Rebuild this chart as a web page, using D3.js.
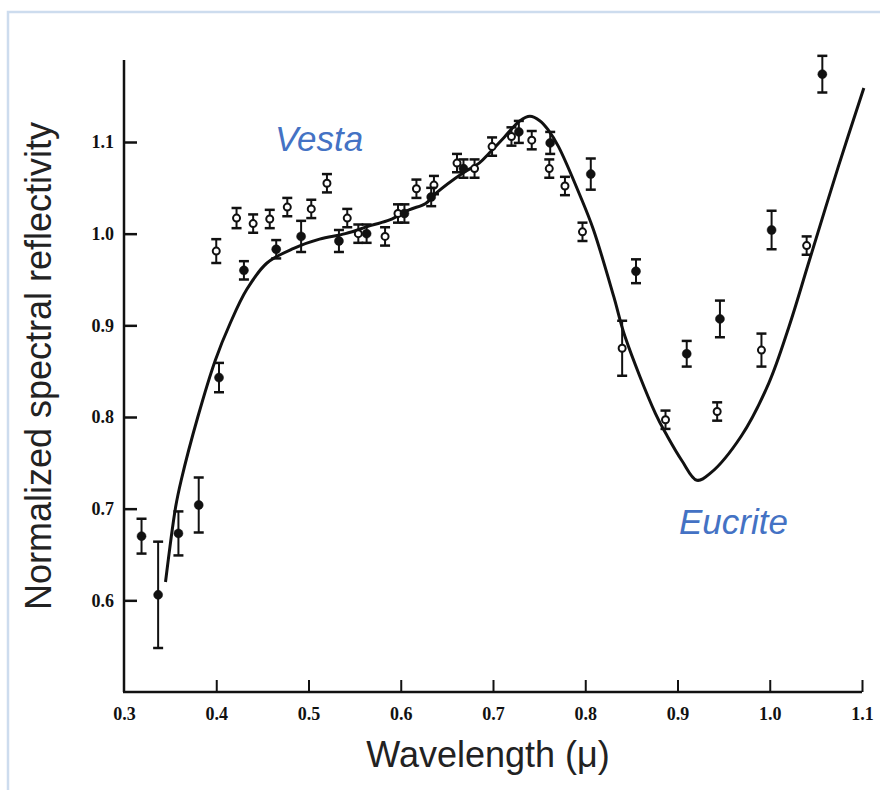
<!DOCTYPE html>
<html>
<head>
<meta charset="utf-8">
<script src="https://cdn.jsdelivr.net/npm/d3@7"></script>
<style>
  body { margin: 0; background: #fff; }
  svg { display: block; }
</style>
</head>
<body>
<div id="chart"></div>
<script>
// eucrite lab spectrum (the solid curve)
var curveX = [0.345, 0.356, 0.362, 0.380, 0.399, 0.415, 0.433, 0.455, 0.484, 0.512, 0.540, 0.568, 0.588, 0.609, 0.627, 0.638, 0.667, 0.685, 0.696, 0.712, 0.729, 0.740, 0.751, 0.760, 0.771, 0.795, 0.809, 0.831, 0.843, 0.876, 0.889, 0.905, 0.921, 0.936, 0.969, 0.999, 1.021, 1.043, 1.074, 1.102];
var curveY = [0.620, 0.702, 0.731, 0.800, 0.862, 0.902, 0.939, 0.968, 0.984, 0.994, 1.000, 1.009, 1.015, 1.026, 1.033, 1.044, 1.066, 1.077, 1.088, 1.105, 1.123, 1.128, 1.123, 1.113, 1.095, 1.040, 1.004, 0.931, 0.888, 0.804, 0.779, 0.752, 0.731, 0.739, 0.779, 0.837, 0.899, 0.971, 1.072, 1.159];

// Vesta measurements, filled symbols
var filledX = [0.319, 0.337, 0.359, 0.381, 0.403, 0.430, 0.465, 0.492, 0.533, 0.563, 0.604, 0.633, 0.668, 0.728, 0.762, 0.806, 0.855, 0.910, 0.946, 1.002, 1.057];
var filledY = [0.670, 0.606, 0.673, 0.704, 0.843, 0.960, 0.983, 0.997, 0.992, 1.000, 1.022, 1.040, 1.071, 1.111, 1.099, 1.065, 0.959, 0.869, 0.907, 1.004, 1.174];
var filledErr = [0.019, 0.058, 0.024, 0.030, 0.016, 0.010, 0.010, 0.017, 0.012, 0.010, 0.010, 0.010, 0.010, 0.012, 0.012, 0.017, 0.013, 0.014, 0.020, 0.021, 0.020];

// Vesta measurements, open symbols
var openX = [0.400, 0.422, 0.440, 0.458, 0.477, 0.503, 0.520, 0.542, 0.554, 0.583, 0.597, 0.617, 0.636, 0.661, 0.680, 0.699, 0.720, 0.742, 0.761, 0.778, 0.797, 0.840, 0.887, 0.943, 0.991, 1.040];
var openY = [0.981, 1.017, 1.011, 1.016, 1.029, 1.027, 1.055, 1.017, 1.000, 0.997, 1.022, 1.049, 1.053, 1.077, 1.071, 1.095, 1.106, 1.102, 1.071, 1.052, 1.002, 0.875, 0.797, 0.806, 0.873, 0.987];
var openErr = [0.013, 0.011, 0.010, 0.010, 0.010, 0.010, 0.010, 0.010, 0.010, 0.010, 0.010, 0.010, 0.010, 0.010, 0.010, 0.010, 0.010, 0.010, 0.010, 0.010, 0.010, 0.030, 0.010, 0.010, 0.018, 0.010];

var xTicks = [0.3, 0.4, 0.5, 0.6, 0.7, 0.8, 0.9, 1.0, 1.1];
var yTicks = [0.6, 0.7, 0.8, 0.9, 1.0, 1.1];

var W = 880, H = 790;
var svg = d3.select("#chart").append("svg")
    .attr("width", W)
    .attr("height", H);

// light blue frame of the slide panel
svg.append("rect")
    .attr("x", 8).attr("y", 12)
    .attr("width", W).attr("height", H)
    .attr("fill", "none")
    .attr("stroke", "#cddcee")
    .attr("stroke-width", 2.5);

var x = d3.scaleLinear().domain([0.3, 1.1]).range([124, 862]);
var y = d3.scaleLinear().domain([0.5, 1.1]).range([692, 142]);

// axes
svg.append("line")
    .attr("x1", x(0.3)).attr("x2", x(0.3))
    .attr("y1", 60).attr("y2", y(0.5))
    .attr("stroke", "#111").attr("stroke-width", 2.5);
svg.append("line")
    .attr("x1", x(0.3) - 1).attr("x2", x(1.1))
    .attr("y1", y(0.5)).attr("y2", y(0.5))
    .attr("stroke", "#111").attr("stroke-width", 2.5);

var xAxis = svg.append("g")
    .attr("transform", "translate(0," + y(0.5) + ")")
    .call(d3.axisBottom(x).tickValues(xTicks).tickSize(-12).tickPadding(15)
        .tickFormat(d3.format(".1f")));
xAxis.select(".domain").remove();
xAxis.selectAll(".tick line").attr("stroke", "#111").attr("stroke-width", 2)
    .attr("display", function(d) { return d == 0.3 ? "none" : null; });

var yAxis = svg.append("g")
    .attr("transform", "translate(" + x(0.3) + ",0)")
    .call(d3.axisLeft(y).tickValues(yTicks).tickSize(-13).tickPadding(10)
        .tickFormat(d3.format(".1f")));
yAxis.select(".domain").remove();
yAxis.selectAll(".tick line").attr("stroke", "#111").attr("stroke-width", 2.5);

svg.selectAll(".tick text")
    .style("font-family", "'Liberation Serif', serif")
    .style("font-weight", "bold")
    .style("font-size", "18px")
    .attr("fill", "#111");

// eucrite curve
var curve = curveX.map(function(d, i) { return [d, curveY[i]]; });
svg.append("path")
    .datum(curve)
    .attr("fill", "none")
    .attr("stroke", "#111")
    .attr("stroke-width", 3)
    .attr("d", d3.line()
        .x(function(d) { return x(d[0]); })
        .y(function(d) { return y(d[1]); })
        .curve(d3.curveCatmullRom.alpha(0.5)));

function drawPoints(xs, ys, errs, filled) {
  var pts = xs.map(function(d, i) { return {x: d, y: ys[i], e: errs[i]}; });
  var g = svg.append("g").selectAll("g")
      .data(pts)
      .enter().append("g");
  g.append("line")
      .attr("x1", function(d) { return x(d.x); })
      .attr("x2", function(d) { return x(d.x); })
      .attr("y1", function(d) { return y(d.y - d.e); })
      .attr("y2", function(d) { return y(d.y + d.e); })
      .attr("stroke", "#111").attr("stroke-width", 2);
  [-1, 1].forEach(function(s) {
    g.append("line")
        .attr("x1", function(d) { return x(d.x) - 5; })
        .attr("x2", function(d) { return x(d.x) + 5; })
        .attr("y1", function(d) { return y(d.y + s * d.e); })
        .attr("y2", function(d) { return y(d.y + s * d.e); })
        .attr("stroke", "#111").attr("stroke-width", 2.5);
  });
  g.append("circle")
      .attr("cx", function(d) { return x(d.x); })
      .attr("cy", function(d) { return y(d.y); })
      .attr("r", filled ? 4.5 : 3.5)
      .attr("fill", filled ? "#111" : "#fff")
      .attr("stroke", "#111")
      .attr("stroke-width", filled ? 0.5 : 2);
}
drawPoints(openX, openY, openErr, false);
drawPoints(filledX, filledY, filledErr, true);

// labels
svg.append("text")
    .attr("x", 275).attr("y", 151)
    .style("font-family", "'Liberation Sans', Arial, sans-serif")
    .style("font-style", "italic")
    .style("font-size", "35px")
    .attr("fill", "#4472c4")
    .text("Vesta");
svg.append("text")
    .attr("x", 679).attr("y", 534)
    .style("font-family", "'Liberation Sans', Arial, sans-serif")
    .style("font-style", "italic")
    .style("font-size", "35px")
    .attr("fill", "#4472c4")
    .text("Eucrite");

svg.append("text")
    .attr("x", 488).attr("y", 767)
    .attr("text-anchor", "middle")
    .style("font-family", "'Liberation Sans', Arial, sans-serif")
    .style("font-size", "36px")
    .attr("fill", "#222")
    .text("Wavelength (\u03bc)");

svg.append("text")
    .attr("transform", "translate(51,366) rotate(-90)")
    .attr("text-anchor", "middle")
    .style("font-family", "'Liberation Sans', Arial, sans-serif")
    .style("font-size", "36px")
    .attr("fill", "#222")
    .text("Normalized spectral reflectivity");
</script>
</body>
</html>
